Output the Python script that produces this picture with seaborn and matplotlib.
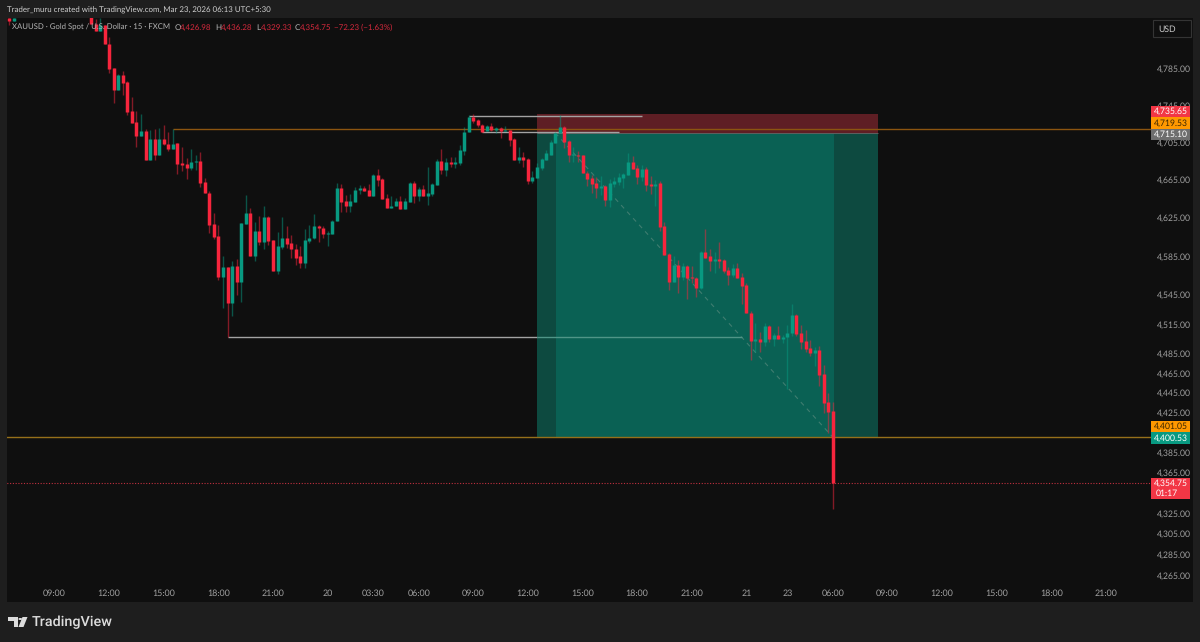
import numpy as np
import pandas as pd
import matplotlib
matplotlib.use("Agg")
import matplotlib.pyplot as plt
from matplotlib.patches import Rectangle, Polygon, Circle
from matplotlib.ticker import NullLocator
import seaborn as sns

# XAUUSD 15m candles, bar 0 is the first one after the stretch that runs off the top of the pane
gap = [np.nan] * 16
opens = [4840, 4836] + gap + [
    4842,4833,4825,4832,4811,4785,4761,4777,4770,4739,
    4727,4712,4717,4686,4709,4692,4709,4703,4698,4704,
    4683,4682,4678,4684,4685,4663,4651,4619,4606,4563,
    4574,4537,4575,4558,4619,4630,4585,4611,4600,4626,
    4602,4570,4595,4604,4599,4593,4585,4578,4601,4604,
    4616,4614,4608,4608,4622,4656,4643,4638,4642,4654,
    4657,4654,4648,4670,4666,4646,4635,4637,4643,4634,
    4642,4662,4648,4655,4648,4650,4660,4685,4676,4684,
    4682,4683,4696,4716,4732,4729,4724,4717,4722,4718,
    4720,4717,4718,4709,4686,4689,4687,4664,4667,4678,
    4686,4692,4704,4715,4721,4706,4692,4692,4691,4672,
    4667,4662,4657,4659,4644,4661,4663,4667,4670,4684,
    4678,4668,4677,4661,4659,4662,4616,4587,4558,4576,
    4563,4575,4563,4562,4552,4589,4585,4580,4582,4581,
    4571,4565,4573,4563,4555,4526,4498,4500,4497,4513,
    4500,4504,4500,4502,4506,4524,4506,4498,4490,4485,
    4488,4464,4436,4426.98]
highs = [4840, 4840] + gap + [
    4845,4838,4840,4832,4819,4785,4779,4782,4771,4754,
    4739,4735,4719,4718,4719,4720,4724,4716,4719,4704,
    4700,4688,4698,4691,4695,4667,4653,4630,4618,4585,
    4574,4580,4582,4620,4649,4635,4621,4627,4638,4627,
    4602,4610,4626,4616,4607,4598,4596,4613,4618,4629,
    4618,4617,4611,4623,4662,4661,4649,4650,4658,4660,
    4659,4661,4671,4677,4667,4650,4648,4646,4648,4646,
    4663,4664,4658,4660,4679,4662,4687,4698,4688,4689,
    4689,4702,4721,4734,4735,4730,4725,4723,4726,4721,
    4721,4722,4718,4710,4700,4695,4688,4675,4683,4688,
    4697,4708,4716,4734,4722,4707,4700,4696,4692,4674,
    4670,4668,4669,4660,4666,4668,4672,4672,4694,4690,
    4681,4681,4679,4669,4665,4664,4621,4588,4585,4581,
    4578,4576,4575,4563,4590,4613,4593,4589,4600,4582,
    4574,4577,4578,4568,4557,4528,4516,4507,4516,4514,
    4506,4513,4504,4514,4536,4525,4514,4509,4499,4491,
    4493,4473,4445,4436.28]
lows = [4832, 4836] + gap + [
    4833,4825,4825,4811,4780,4747,4761,4756,4734,4726,
    4700,4712,4686,4686,4686,4692,4702,4696,4698,4671,
    4674,4666,4676,4676,4658,4651,4609,4603,4560,4531,
    4502,4523,4545,4538,4619,4585,4580,4597,4593,4597,
    4570,4566,4593,4594,4583,4576,4573,4573,4599,4603,
    4600,4604,4596,4608,4622,4631,4631,4631,4642,4650,
    4653,4648,4648,4659,4645,4635,4635,4637,4634,4634,
    4642,4641,4643,4648,4639,4648,4660,4671,4669,4679,
    4678,4681,4691,4716,4726,4721,4716,4717,4717,4715,
    4710,4717,4701,4686,4683,4679,4661,4662,4667,4676,
    4686,4692,4704,4715,4699,4684,4684,4684,4672,4659,
    4651,4646,4649,4638,4636,4658,4660,4657,4670,4677,
    4661,4664,4653,4650,4637,4611,4586,4550,4558,4547,
    4560,4541,4557,4543,4551,4583,4570,4568,4573,4568,
    4555,4563,4562,4536,4526,4478,4486,4486,4493,4497,
    4493,4500,4496,4449,4503,4503,4489,4486,4482,4472,
    4452,4425,4405,4329.33]
closes = [4836, 4840] + gap + [
    4833,4825,4832,4811,4784,4761,4777,4769,4738,4726,
    4712,4717,4686,4709,4692,4709,4703,4698,4703,4682,
    4681,4678,4684,4685,4662,4651,4618,4605,4563,4574,
    4537,4575,4558,4620,4630,4585,4611,4600,4626,4601,
    4570,4596,4604,4598,4592,4583,4578,4602,4604,4616,
    4614,4608,4609,4622,4656,4642,4638,4643,4654,4656,
    4653,4648,4670,4665,4645,4635,4638,4643,4634,4643,
    4662,4648,4655,4648,4651,4661,4685,4676,4684,4682,
    4684,4697,4716,4732,4728,4723,4716,4722,4718,4720,
    4717,4718,4708,4686,4689,4686,4664,4668,4679,4687,
    4694,4705,4715,4721,4705,4692,4693,4690,4672,4666,
    4661,4657,4659,4644,4662,4664,4668,4671,4684,4677,
    4668,4677,4660,4659,4661,4615,4586,4558,4576,4563,
    4575,4562,4562,4552,4589,4583,4580,4582,4580,4570,
    4565,4573,4562,4554,4526,4498,4500,4497,4513,4500,
    4504,4500,4502,4506,4524,4505,4497,4489,4485,4488,
    4463,4435,4426,4354.75]

price_ticks = [4785, 4745, 4705, 4665, 4625, 4585, 4545, 4515, 4485,
               4465, 4445, 4425, 4385, 4365, 4325, 4305, 4285, 4265]
time_ticks = [-8, 4, 16, 28, 40, 52, 62, 72, 84, 96, 108, 120, 132,
              144, 153, 163, 175, 187, 199, 211, 223]
time_labels = ["09:00", "12:00", "15:00", "18:00", "21:00", "20", "03:30", "06:00",
               "09:00", "12:00", "15:00", "18:00", "21:00", "21", "23", "06:00",
               "09:00", "12:00", "15:00", "18:00", "21:00"]

# drawn levels on the chart
stop_level = 4735.65
sl_line = 4719.53
entry_level = 4715.10
tp_line = 4401.05
target_level = 4400.53
last_close = 4354.75
swing_levels = [(83, 121, 4733.5), (86, 116, 4716), (30, 98, 4502)]
swing_in_zone = (98, 143, 4502)

BG = "#0f0f0f"
FRAME = "#1e1e1e"
RED = "#f7253d"
GREEN = "#089981"
W, H = 1200, 642

sns.set_theme(style="dark", rc={
    "axes.facecolor": BG,
    "figure.facecolor": FRAME,
    "axes.edgecolor": BG,
    "xtick.color": "#a0a0a0",
    "ytick.color": "#a0a0a0",
})
plt.rcParams["font.family"] = ["Lato", "DejaVu Sans"]
plt.rcParams["text.hinting"] = "no_hinting"

fig = plt.figure(figsize=(12, 6.42), dpi=100)
ax = fig.add_axes([7 / W, 1 - 582 / H, 1144 / W, 564 / H])


def fx(px):
    return px / W


def fy(px):
    return 1 - px / H


def box(x0, y0, x1, y1, color, edge="none", z=-1):
    fig.add_artist(Rectangle((fx(x0), fy(y1)), fx(x1 - x0), (y1 - y0) / H, transform=fig.transFigure,
                             facecolor=color, edgecolor=edge, lw=0.8, zorder=z))


# pane bits outside the axes
box(7, 582, 1193, 602, BG)
box(1151, 18, 1193, 582, BG)

bars = np.arange(-18, -18 + len(opens))
df = pd.DataFrame({"bar": bars, "open": opens, "high": highs, "low": lows, "close": closes}).dropna()
df["side"] = np.where(df["close"] >= df["open"], "up", "down")
wicks = df.melt(id_vars=["bar", "side"], value_vars=["low", "high"], value_name="price")
bodies = df.melt(id_vars=["bar", "side"], value_vars=["open", "close"], value_name="price")
palette = {"up": GREEN, "down": RED}

# short position tool
ax.fill_between([98, 173], entry_level, stop_level, color="#5e1e24", lw=0, zorder=1)
ax.fill_between([98, 102.2], target_level, entry_level, color="#0d4a40", lw=0, zorder=1)
ax.fill_between([102.2, 163.2], target_level, entry_level, color="#0a6154", lw=0, zorder=1)
ax.fill_between([163.2, 173], target_level, entry_level, color="#0d4a40", lw=0, zorder=1)
ax.plot([102, 163], [entry_level, target_level], color="#3f7d70", lw=0.8, ls=(0, (4, 4)), zorder=1.5)

ax.hlines(entry_level, 98, 173, color="#5f5f5f", lw=0.7, zorder=1.6)
for start, end, level in swing_levels:
    ax.hlines(level, start, end, color="#a3a3a3", lw=1.0, zorder=1.8)
ax.hlines(swing_in_zone[2], swing_in_zone[0], swing_in_zone[1], color="#4f9587", lw=1.0, zorder=1.8)
ax.hlines(sl_line, 18, 233, color="#8c5510", lw=1.0, zorder=2)
ax.hlines(tp_line, -19, 233, color="#96701a", lw=1.0, zorder=2)
ax.hlines(last_close, -19, 233, color="#c0303f", lw=0.8, ls=(0, (1, 1.5)), zorder=2)

sns.lineplot(data=wicks, x="bar", y="price", units="bar", hue="side", palette=palette, estimator=None,
             sort=False, legend=False, lw=1.0, alpha=0.5, solid_capstyle="butt", zorder=3, ax=ax)
sns.lineplot(data=bodies, x="bar", y="price", units="bar", hue="side", palette=palette, estimator=None,
             sort=False, legend=False, lw=2.5, solid_capstyle="butt", zorder=4, ax=ax)

ax.set_yscale("log")
ax.set_xlim(-18.45, 232.9)
ax.set_ylim(4258.3, 4839.6)
ax.yaxis.tick_right()
ax.yaxis.set_minor_locator(NullLocator())
ax.set_yticks(price_ticks)
ax.set_yticklabels([f"{p:,.2f}" for p in price_ticks], fontsize=6.2)
ax.set_xticks(time_ticks)
ax.set_xticklabels(time_labels, fontsize=6.4)
ax.tick_params(axis="both", length=0)
ax.tick_params(axis="y", pad=4)
ax.tick_params(axis="x", pad=5.5)
ax.set_xlabel("")
ax.set_ylabel("")
ax.grid(False)
for spine in ax.spines.values():
    spine.set_visible(False)

# price tags on the axis
tags = [(106, 117, "#f23645", "#ffffff", "4,735.65"),
        (117, 129, "#ff9800", "#3a2500", "4,719.53"),
        (129, 140, "#6e6e6e", "#ffffff", "4,715.10"),
        (421, 432, "#ff9800", "#3a2500", "4,401.05"),
        (432, 443.5, "#089981", "#ffffff", "4,400.53")]
for y0, y1, bg, fg, label in tags:
    box(1151, y0, 1190, y1, bg, z=5)
    fig.text(fx(1171), fy((y0 + y1) / 2), label, color=fg, fontsize=6.2, ha="center", va="center", zorder=6)
box(1151, 478, 1190, 498.5, "#f23645", z=5)
fig.text(fx(1171), fy(483.5), "4,354.75", color="#ffffff", fontsize=6.2, ha="center", va="center", zorder=6)
fig.text(fx(1156), fy(493), "01:17", color="#ffffff", fontsize=6.2, ha="left", va="center", zorder=6)

# USD button
box(1153, 20, 1191, 37, BG, edge="#343434", z=5)
fig.text(fx(1158.5), fy(29), "USD", color="#c8c8c8", fontsize=6.2, ha="left", va="center", zorder=6)

# header and legend
fig.text(fx(7), fy(10), "Trader_muru created with TradingView.com, Mar 23, 2026 06:13 UTC+5:30",
         color="#cfcfcf", fontsize=5.7, ha="left", va="center", zorder=6)
fig.text(fx(12), fy(27.5), "XAUUSD · Gold Spot / U.S. Dollar · 15 · FXCM", color="#b4b4b4",
         fontsize=5.6, ha="left", va="center", zorder=6)
legend_bits = [(175, "O", "#b4b4b4"), (180, "4,426.98", "#d8293d"), (215, "H", "#b4b4b4"),
               (221, "4,436.28", "#d8293d"), (256, "L", "#b4b4b4"), (260.5, "4,329.33", "#d8293d"),
               (295, "C", "#b4b4b4"), (300, "4,354.75", "#d8293d"), (334, "−72.23 (−1.63%)", "#d8293d")]
for px, text, color in legend_bits:
    fig.text(fx(px), fy(27.5), text, color=color, fontsize=5.8, ha="left", va="center", zorder=6)

# TradingView logo
LOGO = "#dcdcdc"
fig.add_artist(Polygon([(fx(8), fy(617)), (fx(18), fy(617)), (fx(18), fy(627)), (fx(13.5), fy(627)),
                        (fx(13.5), fy(621)), (fx(8), fy(621))], closed=True, transform=fig.transFigure,
                       facecolor=LOGO, edgecolor="none"))
fig.add_artist(Polygon([(fx(22.5), fy(617)), (fx(27.5), fy(617)), (fx(23.5), fy(627)), (fx(18.5), fy(627))],
                       closed=True, transform=fig.transFigure, facecolor=LOGO, edgecolor="none"))
fig.add_artist(Circle((fx(20.3), fy(619)), 1.9 / W, transform=fig.transFigure, facecolor=LOGO, edgecolor="none"))
fig.text(fx(32), fy(622), "TradingView", color=LOGO, fontsize=10.4, fontweight="medium",
         family=["Roboto", "DejaVu Sans"], ha="left", va="center")

fig.savefig("out.png", dpi=100, facecolor=FRAME)
plt.close(fig)
